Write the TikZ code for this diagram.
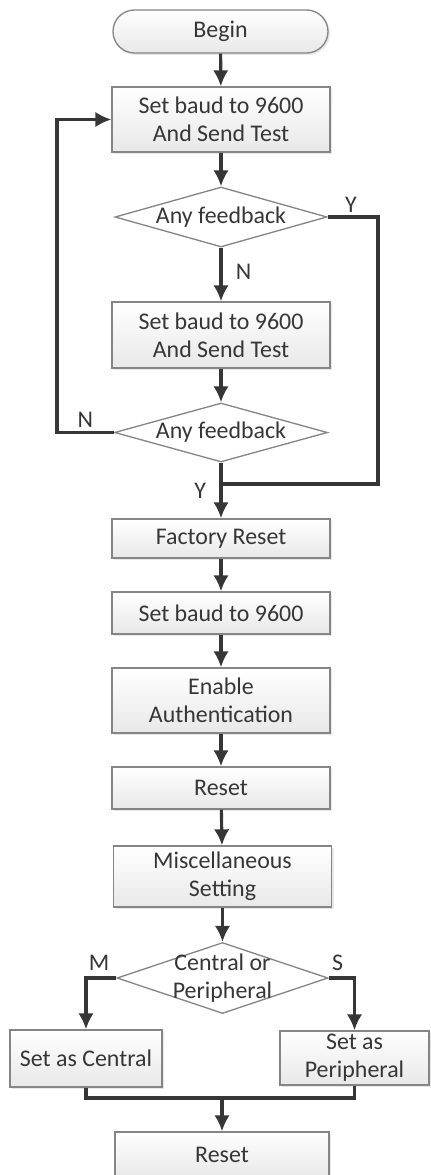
\documentclass[tikz,border=0pt]{standalone}
\usepackage{fontspec}
\setmainfont{Carlito}
\usetikzlibrary{arrows.meta}
\usetikzlibrary{shapes.geometric}
\usetikzlibrary{shadows}
\definecolor{ink}{HTML}{363636}
\definecolor{rim}{HTML}{858585}

\begin{document}
\begin{tikzpicture}[>={Latex[length=3.2mm,width=3.1mm]},
	every node/.style={text=ink,font=\fontsize{13.6}{15.9}\selectfont},
	box/.style={draw=rim,line width=0.75pt,top color=white,bottom color=gray!18,align=center,inner sep=0pt,minimum width=4.36cm,
		drop shadow={opacity=0.18,shadow xshift=0.04cm,shadow yshift=-0.04cm}},
	ask/.style={draw=rim,line width=0.75pt,fill=white,diamond,inner sep=0pt},
	flow/.style={draw=ink,line width=1.8pt}]
	\useasboundingbox (0,0) rectangle (8.6,-23.5);
	\node[box,rounded corners=0.43cm,minimum width=4.3cm,minimum height=0.86cm] (begin) at (4.41,-0.63) {Begin};
	\node[box,minimum height=1.3cm] (sendA) at (4.42,-2.39) {Set baud to 9600\\And Send Test};
	\node[ask,minimum width=4.24cm,minimum height=1.2cm,label=center:Any feedback] (askA) at (4.42,-4.34) {};
	\node[box,minimum height=1.32cm] (sendB) at (4.42,-6.7) {Set baud to 9600\\And Send Test};
	\node[ask,minimum width=4.26cm,minimum height=1.18cm,label=center:Any feedback] (askB) at (4.42,-8.65) {};
	\node[box,minimum height=0.78cm] (factory) at (4.42,-10.77) {Factory Reset};
	\node[box,minimum height=0.84cm] (baud) at (4.42,-12.26) {Set baud to 9600};
	\node[box,minimum height=1.3cm] (auth) at (4.42,-14.01) {Enable\\Authentication};
	\node[box,minimum height=0.84cm] (resetA) at (4.42,-15.76) {Reset};
	\node[box,minimum height=1.22cm] (misc) at (4.45,-17.53) {Miscellaneous\\Setting};
	\node[ask,minimum width=4.22cm,minimum height=1.42cm,label={[align=center]center:Central or\\Peripheral}] (role) at (4.45,-19.56) {};
	\node[box,minimum width=3.04cm,minimum height=1.14cm] (central) at (1.72,-21.17) {Set as Central};
	\node[box,minimum width=2.98cm,minimum height=1.08cm] (periph) at (7.09,-21.16) {Set as\\Peripheral};
	\node[box,minimum width=4.28cm,minimum height=0.9cm] (resetB) at (4.44,-23.09) {Reset};
	\coordinate (loopL) at (1.14,-2.39);
	\coordinate (loopR) at (7.56,-9.68);
	\coordinate (joinA) at (4.42,-9.68);
	\coordinate (joinB) at (4.44,-21.96);
	\draw[flow,->] (begin) -- (sendA);
	\draw[flow,->] (sendA) -- (askA);
	\draw[flow,->] (askA) -- node[right,xshift=0.15cm,pos=0.45] (nA) {N} (sendB);
	\draw[flow,->] (sendB) -- (askB);
	\draw[flow,->] (askB.west) -- node[above,pos=0.5,yshift=-0.05cm] (nB) {N} (loopL |- askB.west) -- (loopL) -- (sendA.west);
	\draw[flow] (askA.east) -- node[above right,pos=0.2,yshift=-0.05cm] (yA) {Y} (loopR |- askA.east) -- (loopR) -- (joinA);
	\draw[flow,->] (askB.south) -- node[left,pos=0.5,xshift=-0.15cm] (yB) {Y} (factory.north);
	\draw[flow,->] (factory) -- (baud);
	\draw[flow,->] (baud) -- (auth);
	\draw[flow,->] (auth) -- (resetA);
	\draw[flow,->] (resetA) -- (misc);
	\draw[flow,->] (misc) -- (role);
	\draw[flow,->] (role.west) -| node[above,pos=0.5,xshift=0.26cm] (m) {M} (central.north);
	\draw[flow,->] (role.east) -| node[above,pos=0.5,xshift=-0.34cm] (s) {S} (periph.north);
	\draw[flow] (central.south) |- (joinB);
	\draw[flow] (periph.south) |- (joinB);
	\draw[flow,->] (joinB) -- (resetB);
\end{tikzpicture}
\end{document}
